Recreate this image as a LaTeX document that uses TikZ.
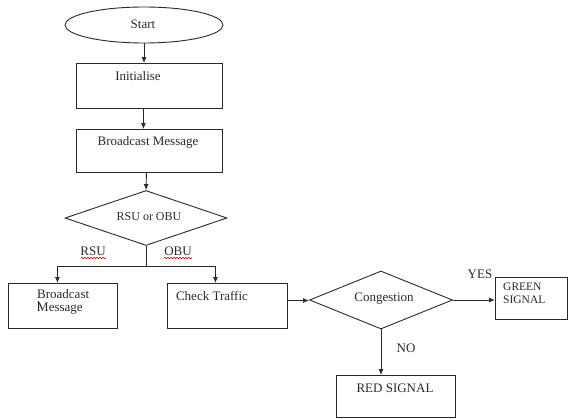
\documentclass[tikz,border=0pt]{standalone}
\usepackage{fontspec}
\setmainfont{Liberation Serif}
\usetikzlibrary{shapes.geometric,arrows.meta,decorations.pathmorphing}
\definecolor{ink}{HTML}{2A2A2A}
\begin{document}
\begin{tikzpicture}[x=1pt,y=-1pt,
  every node/.style={text=ink, font=\rmfamily\fontsize{13}{14}\selectfont},
  boxnode/.style={draw=ink, line width=0.9pt, rectangle, anchor=north west, inner sep=0pt},
  dianode/.style={draw=ink, line width=0.9pt, diamond, inner sep=0pt},
  txt/.style={inner sep=0pt, align=left},
  conn/.style={draw=ink, line width=0.9pt, -{Latex[length=6pt,width=5pt]}},
  plain/.style={draw=ink, line width=0.9pt},
  squiggle/.style={draw=red!85!black, line width=0.6pt, decorate, decoration={snake, amplitude=0.8pt, segment length=3pt}}
]
\useasboundingbox (0,0) rectangle (568,418);
% shapes
\node[draw=ink, line width=0.9pt, ellipse, minimum width=158pt, minimum height=36pt, inner sep=0pt] (start) at (144,25) {};
\node[txt] (startt) at (143,24) {Start};
\node[boxnode, minimum width=146pt, minimum height=45pt] (init) at (76,63) {};
\node[txt] (initt) at (138,76) {Initialise};
\node[boxnode, minimum width=146pt, minimum height=43pt] (bm) at (76,129) {};
\node[txt] (bmt) at (148,142) {Broadcast Message};
\node[dianode, minimum width=162pt, minimum height=55pt] (d1) at (146,218) {};
\node[txt, font=\rmfamily\fontsize{12}{13}\selectfont] (d1t) at (149,217) {RSU or OBU};
\node[boxnode, minimum width=109pt, minimum height=45pt] (lb) at (8,283) {};
\node[txt, anchor=north west, font=\rmfamily\fontsize{13}{13}\selectfont] (lbt) at (37,289) {Broadcast\\ Message};
\node[boxnode, minimum width=120pt, minimum height=45pt] (ct) at (167,283) {};
\node[txt] (ctt) at (212,296) {Check Traffic};
\node[dianode, minimum width=143pt, minimum height=58pt] (d2) at (381,300) {};
\node[txt] (d2t) at (384,299) {Congestion};
\node[boxnode, minimum width=72pt, minimum height=42pt] (green) at (495,277) {};
\node[txt, anchor=north west, font=\rmfamily\fontsize{11.5}{13}\selectfont] (greent) at (503,283) {GREEN\\SIGNAL};
\node[boxnode, minimum width=119pt, minimum height=41.5pt] (red) at (336,375) {};
\node[txt] (redt) at (395,388) {RED SIGNAL};
% labels
\node[txt] (rsu) at (93,251) {RSU};
\node[txt] (obu) at (178,251) {OBU};
\node[txt] (yes) at (480,274) {YES};
\node[txt] (no) at (406,348) {NO};
\draw[squiggle] (81,258) -- (106,258);
\draw[squiggle] (164,258) -- (192,258);
\draw[draw=ink, line width=0.6pt] (38,301) -- (38,311);
% connectors
\path[conn] (start.south) -- (start.south |- init.north);
\path[conn] ([xshift=-6pt]init.south) -- ([xshift=-6pt]bm.north);
\path[conn] ([xshift=-3pt]bm.south) -- (d1.north);
\coordinate (split) at (146,266);
\path[plain] (d1.south) -- (split);
\path[conn] (split) -| ([xshift=-5.5pt]lb.north);
\path[conn] (split) -| ([xshift=-12pt]ct.north);
\coordinate (ctout) at ([yshift=5.5pt]ct.east);
\path[conn] (ctout) -- (ctout -| d2.west);
\path[conn] (d2.east) -- (d2.east -| green.west);
\path[conn] (d2.south) -- (d2.south |- red.north);
\end{tikzpicture}
\end{document}
